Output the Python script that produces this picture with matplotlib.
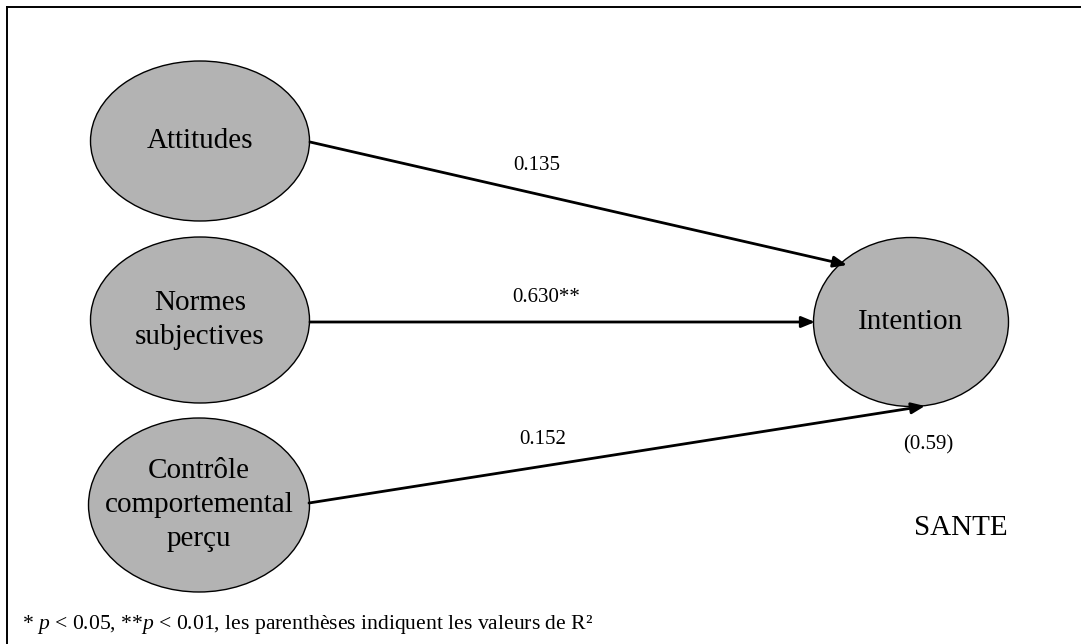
import matplotlib.pyplot as plt
from matplotlib.patches import Ellipse, FancyArrowPatch

# data
predictors = ["Attitudes", "Normes\nsubjectives", "Contrôle\ncomportemental\nperçu"]
outcome = "Intention"
coefficients = ["0.135", "0.630**", "0.152"]
r_squared = "(0.59)"
group = "SANTE"
note = "* $p$ < 0.05, **$p$ < 0.01, les parenthèses indiquent les valeurs de R²"

plt.rcParams["font.family"] = ["Liberation Serif", "DejaVu Serif"]
plt.rcParams["mathtext.fontset"] = "custom"
plt.rcParams["mathtext.rm"] = "Liberation Serif"
plt.rcParams["mathtext.it"] = "Liberation Serif:italic"

W, H = 1081, 644
fig = plt.figure(figsize=(W / 100, H / 100), dpi=100)
ax = fig.add_axes([0, 0, 1, 1])
ax.set_xlim(0, W)
ax.set_ylim(H, 0)
ax.axis("off")

# layout (pixels)
pred_xy = [(200, 141), (200, 320), (199, 505)]
pred_wh = [(219, 160), (219, 166), (221, 174)]
out_xy, out_wh = (911, 322), (195, 169)
starts = [(310, 142), (310, 322), (309, 503)]
ends = [(847, 265), (815, 322), (925, 406)]
label_xy = [(537, 165), (546, 297), (543, 439)]

fill = "#b3b3b3"
for name, (x, y), (w, h) in zip(predictors, pred_xy, pred_wh):
    ax.add_patch(Ellipse((x, y), w, h, facecolor=fill, edgecolor="black", lw=1.0))
    ax.text(x, y, name, ha="center", va="center", fontsize=21, linespacing=1.38)

ax.add_patch(Ellipse(out_xy, *out_wh, facecolor=fill, edgecolor="black", lw=1.0))
ax.text(out_xy[0], out_xy[1], outcome, ha="center", va="center", fontsize=21)

for s, e, c, (lx, ly) in zip(starts, ends, coefficients, label_xy):
    ax.add_patch(FancyArrowPatch(s, e, arrowstyle="-|>,head_length=0.8,head_width=0.33",
                                 mutation_scale=10, lw=2.0, color="black",
                                 shrinkA=0, shrinkB=0))
    ax.text(lx, ly, c, ha="center", va="center", fontsize=15)

ax.text(928, 445, r_squared, ha="center", va="center", fontsize=15)
ax.text(961, 528, group, ha="center", va="center", fontsize=21)
ax.text(22, 624, note, ha="left", va="center", fontsize=15.6)

# frame (only top and left visible)
ax.plot([6.5, W], [6.5, 6.5], color="black", lw=1.4)
ax.plot([6.5, 6.5], [6.5, H], color="black", lw=1.4)

fig.savefig("out.png", dpi=100)
